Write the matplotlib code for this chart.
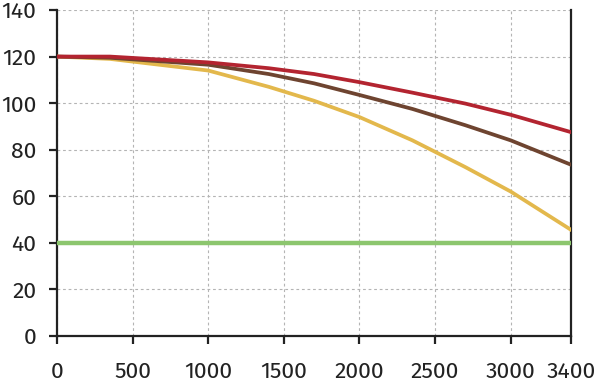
import matplotlib.pyplot as plt

plt.rcParams['font.family'] = ['Fira Sans', 'Noto Sans', 'DejaVu Sans']

# curve values
x = [0, 350, 1000, 1400, 1700, 2000, 2350, 2700, 3000, 3400]
red = [120, 120, 117.5, 115, 112.5, 109, 104.5, 99.8, 95, 87.5]
brown = [120, 119.5, 116.5, 112.5, 108.5, 103.5, 97.5, 90.5, 84, 73.5]
yellow = [120, 119, 114, 107, 101, 94, 84, 72.5, 62, 45.5]
green = [40] * len(x)

xticks = [0, 500, 1000, 1500, 2000, 2500, 3000, 3400]
yticks = [0, 20, 40, 60, 80, 100, 120, 140]

fig, ax = plt.subplots(figsize=(6, 3.86), dpi=100)
fig.subplots_adjust(left=0.095, right=0.952, top=0.974, bottom=0.13)

ax.plot(x, green, color='#8cc66e', lw=3.2, solid_capstyle='butt', zorder=3)
ax.plot(x, yellow, color='#e3b84c', lw=2.7, zorder=3)
ax.plot(x, brown, color='#6e4430', lw=2.7, zorder=3)
ax.plot(x, red, color='#b32430', lw=2.7, zorder=3)

ax.set_xlim(0, 3400)
ax.set_ylim(0, 140)
ax.set_xticks(xticks)
ax.set_yticks(yticks)

ax.grid(True, color='#b4b4b4', linestyle=(0, (2.5, 2.5)), linewidth=0.8)
ax.set_axisbelow(True)

ax.spines['top'].set_visible(False)
for s in ['left', 'bottom', 'right']:
    ax.spines[s].set_linewidth(1.6)
    ax.spines[s].set_color('#222222')

ax.tick_params(axis='both', length=6, width=1.6, color='#222222',
               labelsize=16.5, labelcolor='#222222')
ax.tick_params(axis='x', pad=12)
ax.tick_params(axis='y', pad=9)

plt.savefig('out.png', dpi=100)
